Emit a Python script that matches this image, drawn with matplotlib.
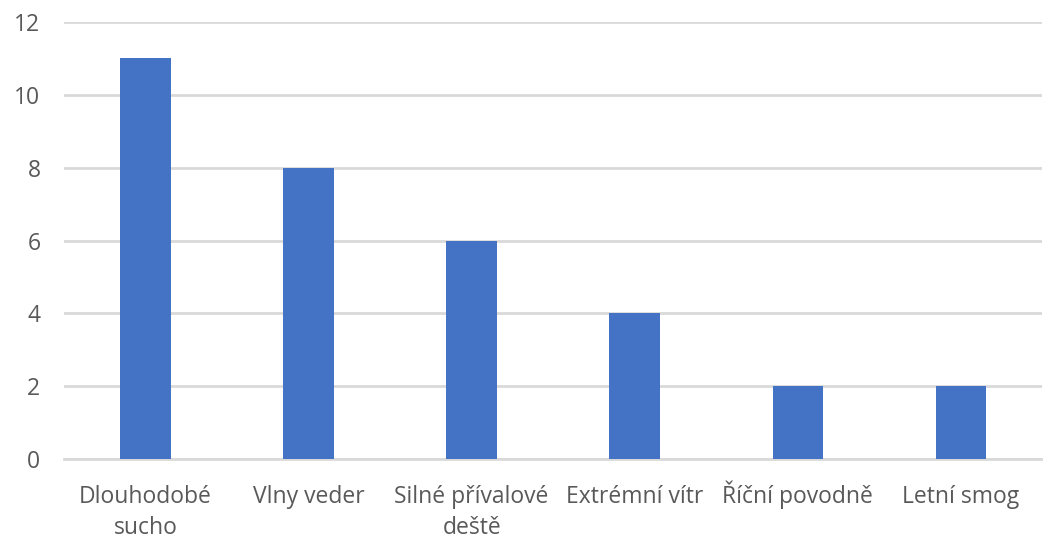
import matplotlib
matplotlib.use("Agg")
import matplotlib.pyplot as plt

categories = ["Dlouhodobé\nsucho", "Vlny veder\n ", "Silné přívalové\ndeště", "Extrémní vítr\n ", "Říční povodně\n ", "Letní smog\n "]
values = [11, 8, 6, 4, 2, 2]
yticks = [0, 2, 4, 6, 8, 10, 12]

plt.rcParams['font.family'] = ['Open Sans', 'DejaVu Sans']

fig = plt.figure(figsize=(10.43, 5.38), dpi=100)
ax = fig.add_axes([0.0614, 0.1468, 0.938, 0.8122])
x = list(range(len(categories)))
ax.bar(x, values, width=0.31, color="#4472C4", zorder=3)
ax.set_xlim(-0.5, len(categories) - 0.5)
ax.set_ylim(0, 12)
ax.set_yticks(yticks)
ax.set_yticklabels([str(t) for t in yticks])
ax.set_xticks(x)
ax.set_xticklabels(categories, linespacing=1.39)
ax.grid(axis="y", color="#d9d9d9", linewidth=2, zorder=0)
for s in ["top", "right", "left"]:
    ax.spines[s].set_visible(False)
ax.spines["bottom"].set_color("#d9d9d9")
ax.spines["bottom"].set_linewidth(2)
ax.tick_params(axis="both", length=0, labelsize=16.5, labelcolor="#595959")
ax.tick_params(axis="x", pad=54)
ax.tick_params(axis="y", pad=17)
for lab in ax.get_xticklabels():
    lab.set_va("baseline")
fig.savefig("out.png", dpi=100)
